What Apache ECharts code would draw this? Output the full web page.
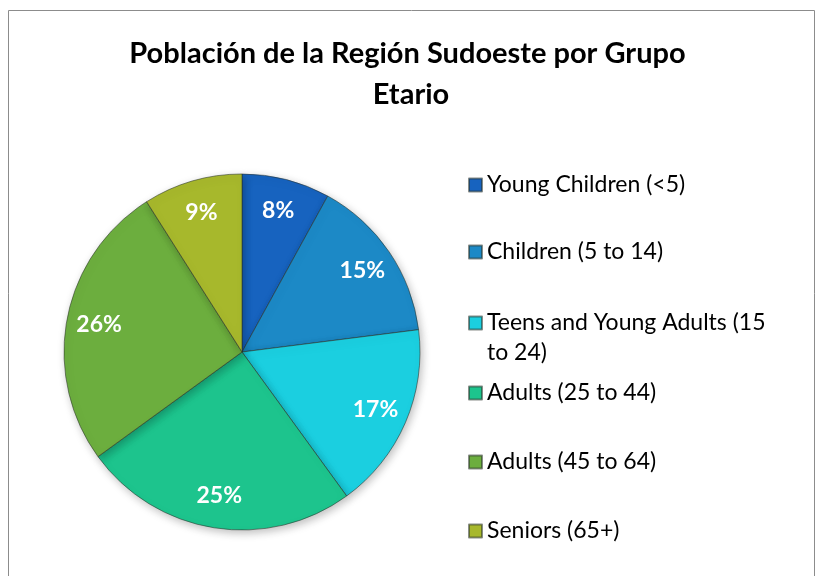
<!DOCTYPE html>
<html>
<head>
    <meta charset="utf-8" />
    <title>Población de la Región Sudoeste por Grupo Etario</title>
    <script src="https://cdn.jsdelivr.net/npm/echarts@6/dist/echarts.min.js"></script>
    <style>
        html, body { margin: 0; padding: 0; background: #fff; }
        #chart { width: 822px; height: 576px; }
    </style>
</head>
<body>
    <div id="chart"></div>
    <script type="text/javascript">
        // data
        var groups = ['Young Children (<5)', 'Children (5 to 14)', 'Teens and Young Adults (15 to 24)',
                      'Adults (25 to 44)', 'Adults (45 to 64)', 'Seniors (65+)'];
        var shares = [8, 15, 17, 25, 26, 9];

        var colors = ['#1763bf', '#1c89c6', '#1bcfe0', '#1dc48d', '#6cae3e', '#a7b82c'];
        // vertical spot of each legend row (top of the row box)
        var legendTops = [170, 237, 278, 378, 447, 516];

        var pieData = groups.map(function (g, i) {
            return { name: g, value: shares[i], itemStyle: { color: colors[i] } };
        });
        var labelData = groups.map(function (g, i) {
            return { name: g, value: shares[i] };
        });

        var chart = echarts.init(document.getElementById('chart'));

        var option = {
            backgroundColor: '#fff',
            animation: false,
            title: {
                text: 'Población de la Región Sudoeste por Grupo Etario',
                left: 'center',
                top: 28,
                textStyle: {
                    fontFamily: 'Lato',
                    fontWeight: 'bold',
                    fontSize: 29,
                    color: '#000',
                    lineHeight: 41,
                    width: 600,
                    overflow: 'break'
                }
            },
            graphic: [{
                type: 'rect',
                z: -1,
                shape: { x: 8.5, y: 10.5, width: 806, height: 620 },
                style: { fill: 'none', stroke: '#8c8c8c', lineWidth: 1 }
            }],
            legend: groups.map(function (g, i) {
                return {
                    orient: 'vertical',
                    left: 468,
                    top: legendTops[i],
                    padding: 0,
                    itemWidth: 13,
                    itemHeight: 13,
                    icon: 'rect',
                    selectedMode: false,
                    data: [g],
                    // long entry wraps before "to 24)"; a blank first line keeps
                    // its first line level with the icon
                    formatter: function (name) {
                        if (i !== 2) return name;
                        return '\n' + name.replace(/ (to \d+\))$/, '\n$1');
                    },
                    textStyle: {
                        fontFamily: 'Lato',
                        fontSize: 23,
                        color: '#000',
                        lineHeight: 30
                    }
                };
            }),
            series: [
                {
                    type: 'pie',
                    name: 'pie',
                    radius: 178,
                    center: [242, 352],
                    startAngle: 90,
                    clockwise: true,
                    silent: true,
                    label: { show: false },
                    labelLine: { show: false },
                    itemStyle: {
                        borderColor: 'rgba(40,50,40,0.55)',
                        borderWidth: 1,
                        shadowBlur: 8,
                        shadowOffsetX: 2,
                        shadowOffsetY: 3,
                        shadowColor: 'rgba(0,0,0,0.25)'
                    },
                    data: pieData
                },
                {
                    type: 'pie',
                    name: 'labels',
                    radius: [107, 178],
                    center: [242, 352],
                    startAngle: 90,
                    clockwise: true,
                    silent: true,
                    itemStyle: { color: 'rgba(0,0,0,0)', borderWidth: 0 },
                    labelLine: { show: false },
                    label: {
                        show: true,
                        position: 'inside',
                        formatter: '{c}%',
                        fontFamily: 'Lato',
                        fontWeight: 'bold',
                        fontSize: 23,
                        color: '#fff'
                    },
                    data: labelData
                }
            ]
        };

        chart.setOption(option);
    </script>
</body>
</html>
